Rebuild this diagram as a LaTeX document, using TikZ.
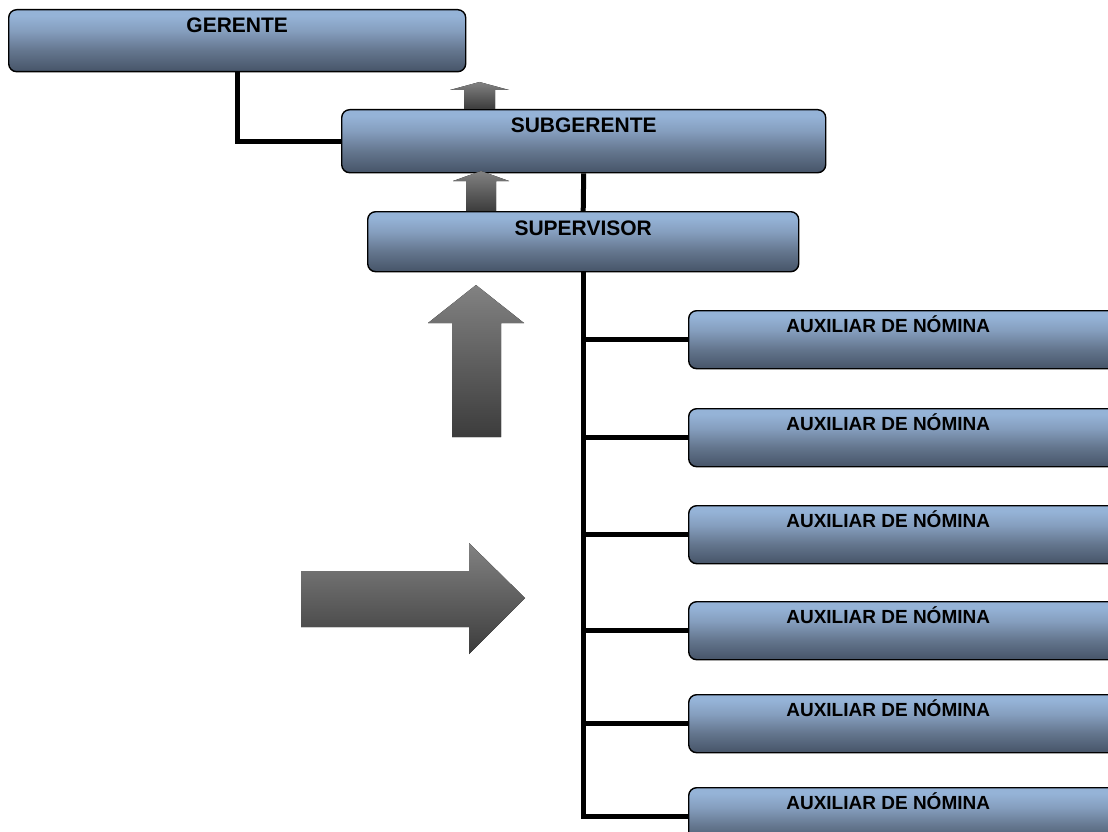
\documentclass[tikz,border=0pt]{standalone}
\usepackage{fontspec}
\setmainfont{Liberation Sans}
% colours of the position boxes and of the grey arrows
\definecolor{boxtop}{RGB}{149,179,215}
\definecolor{boxmid}{RGB}{133,158,190}
\definecolor{boxlow}{RGB}{100,118,142}
\definecolor{boxbot}{RGB}{70,84,104}
\definecolor{arrtop}{RGB}{130,130,130}
\definecolor{arrbot}{RGB}{60,60,60}
\pgfdeclareverticalshading{boxshade}{100bp}{color(0bp)=(boxbot); color(25bp)=(boxbot); color(42bp)=(boxlow); color(58bp)=(boxmid); color(70bp)=(boxtop); color(100bp)=(boxtop)}
\begin{document}
\begin{tikzpicture}[x=1pt,y=-1pt,
  posbox/.style={draw=black, line width=1.4pt, rounded corners=8pt,
    shade, shading=boxshade, anchor=north west, inner sep=0pt},
  bigtitle/.style={label={[anchor=base, yshift=-24pt,
    font=\bfseries\fontsize{21}{24}\selectfont]north:#1}},
  auxtitle/.style={label={[anchor=base, yshift=-22pt, xshift=-20.5pt,
    font=\bfseries\fontsize{19}{22}\selectfont]north:#1}},
  conn/.style={draw=black, line width=5pt},
  greyarrow/.style={top color=arrtop, bottom color=arrbot}]
\useasboundingbox (0,0) rectangle (1108,832);
\clip (0,0) rectangle (1108,832);

% position boxes (named first, painted over the connectors below)
\node[posbox, minimum width=457pt, minimum height=62pt, bigtitle=GERENTE] (ger) at (8,9) {};
\node[posbox, minimum width=484pt, minimum height=63pt, bigtitle=SUBGERENTE] (sub) at (341,109) {};
\node[posbox, minimum width=431pt, minimum height=60pt, bigtitle=SUPERVISOR] (sup) at (367,211) {};
\foreach \i/\t in {1/310, 2/408, 3/505, 4/601, 5/694, 6/787}
  \node[posbox, minimum width=440pt, minimum height=58pt, auxtitle={AUXILIAR DE NÓMINA}] (aux\i) at (688,\t) {};

% grey block arrows
\fill[greyarrow] (464,109) -- (464,90) -- (450,90) -- (479.5,82) -- (509,90) -- (495,90) -- (495,109) -- cycle;
\fill[greyarrow] (466,211) -- (466,181) -- (453,181) -- (481,171) -- (509,181) -- (496,181) -- (496,211) -- cycle;
\fill[greyarrow] (452,437) -- (452,323) -- (428,323) -- (476,285) -- (524,323) -- (501,323) -- (501,437) -- cycle;
\fill[greyarrow] (301,571) -- (469,571) -- (469,543) -- (525,598) -- (469,654) -- (469,627) -- (301,627) -- cycle;

% connectors
\draw[conn] (ger.south west) ++(229,-0.7) |- (sub.west);
\draw[conn] (sub.south) -- (sup.north);
\draw[conn] (sup.south) |- (aux6.west);
\foreach \i in {1,...,5}
  \draw[conn] (aux\i.west) -- (aux\i.west -| sup.south);
\end{tikzpicture}
\end{document}
